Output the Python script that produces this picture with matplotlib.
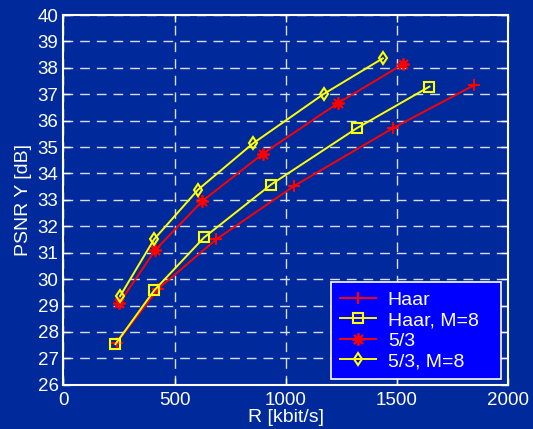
import matplotlib.pyplot as plt
import numpy as np

plt.rcParams['font.family'] = ['Liberation Sans', 'DejaVu Sans']

bg = '#002A9C'

# rate [kbit/s] and PSNR Y [dB]
haar_r = [240, 427, 688, 1038, 1483, 1847]
haar_y = [27.6, 29.64, 31.51, 33.53, 35.72, 37.34]
haar8_r = [234, 409, 633, 934, 1321, 1647]
haar8_y = [27.54, 29.58, 31.58, 33.58, 35.72, 37.29]
w53_r = [250, 414, 624, 896, 1236, 1526]
w53_y = [29.08, 31.11, 32.95, 34.74, 36.67, 38.13]
w538_r = [255, 408, 606, 853, 1171, 1437]
w538_y = [29.36, 31.51, 33.39, 35.14, 37.01, 38.36]

fig = plt.figure(figsize=(5.33, 4.29), dpi=100, facecolor=bg)
ax = fig.add_axes([0.119, 0.103, 0.834, 0.862])
ax.set_facecolor(bg)

ax.plot(haar_r, haar_y, color='red', lw=1.4, marker='+', ms=8, mew=1.5, label='Haar')
ax.plot(haar8_r, haar8_y, color='yellow', lw=1.4, marker='s', ms=7, mew=1.5,
        mfc='none', label='Haar, M=8')
ax.plot(w53_r, w53_y, color='red', lw=1.4, marker=(8, 2, 0), ms=9, mew=1.3, label='5/3')
ax.plot(w538_r, w538_y, color='yellow', lw=1.4, marker='d', ms=6.5, mew=1.5,
        mfc='none', label='5/3, M=8')

ax.set_xlim(0, 2000)
ax.set_ylim(26, 40)
ax.set_xticks(np.arange(0, 2001, 500))
ax.set_yticks(np.arange(26, 41, 1))
ax.grid(True, color='#D8DEF0', ls=(0, (7, 5)), lw=1)

for s in ax.spines.values():
    s.set_color('white')
    s.set_linewidth(1.5)
ax.tick_params(colors='white', labelsize=13.5, direction='in', length=5,
               top=True, right=True, width=1)
ax.tick_params(axis='x', pad=5)

ax.set_xlabel('R [kbit/s]', color='white', fontsize=14, labelpad=0)
ax.set_ylabel('PSNR Y [dB]', color='white', fontsize=14, labelpad=4)

leg = ax.legend(loc='lower left', bbox_to_anchor=(0.602, 0.016, 0.382, 0.2),
                mode='expand', borderaxespad=0,
                fontsize=14, facecolor='#0000FF', edgecolor='white', framealpha=1,
                fancybox=False, handlelength=1.85, handletextpad=0.62,
                labelspacing=0.15, borderpad=0.45)
leg.get_frame().set_linewidth(1.2)
for t in leg.get_texts():
    t.set_color('white')

fig.savefig('out.png', dpi=100, facecolor=bg)
